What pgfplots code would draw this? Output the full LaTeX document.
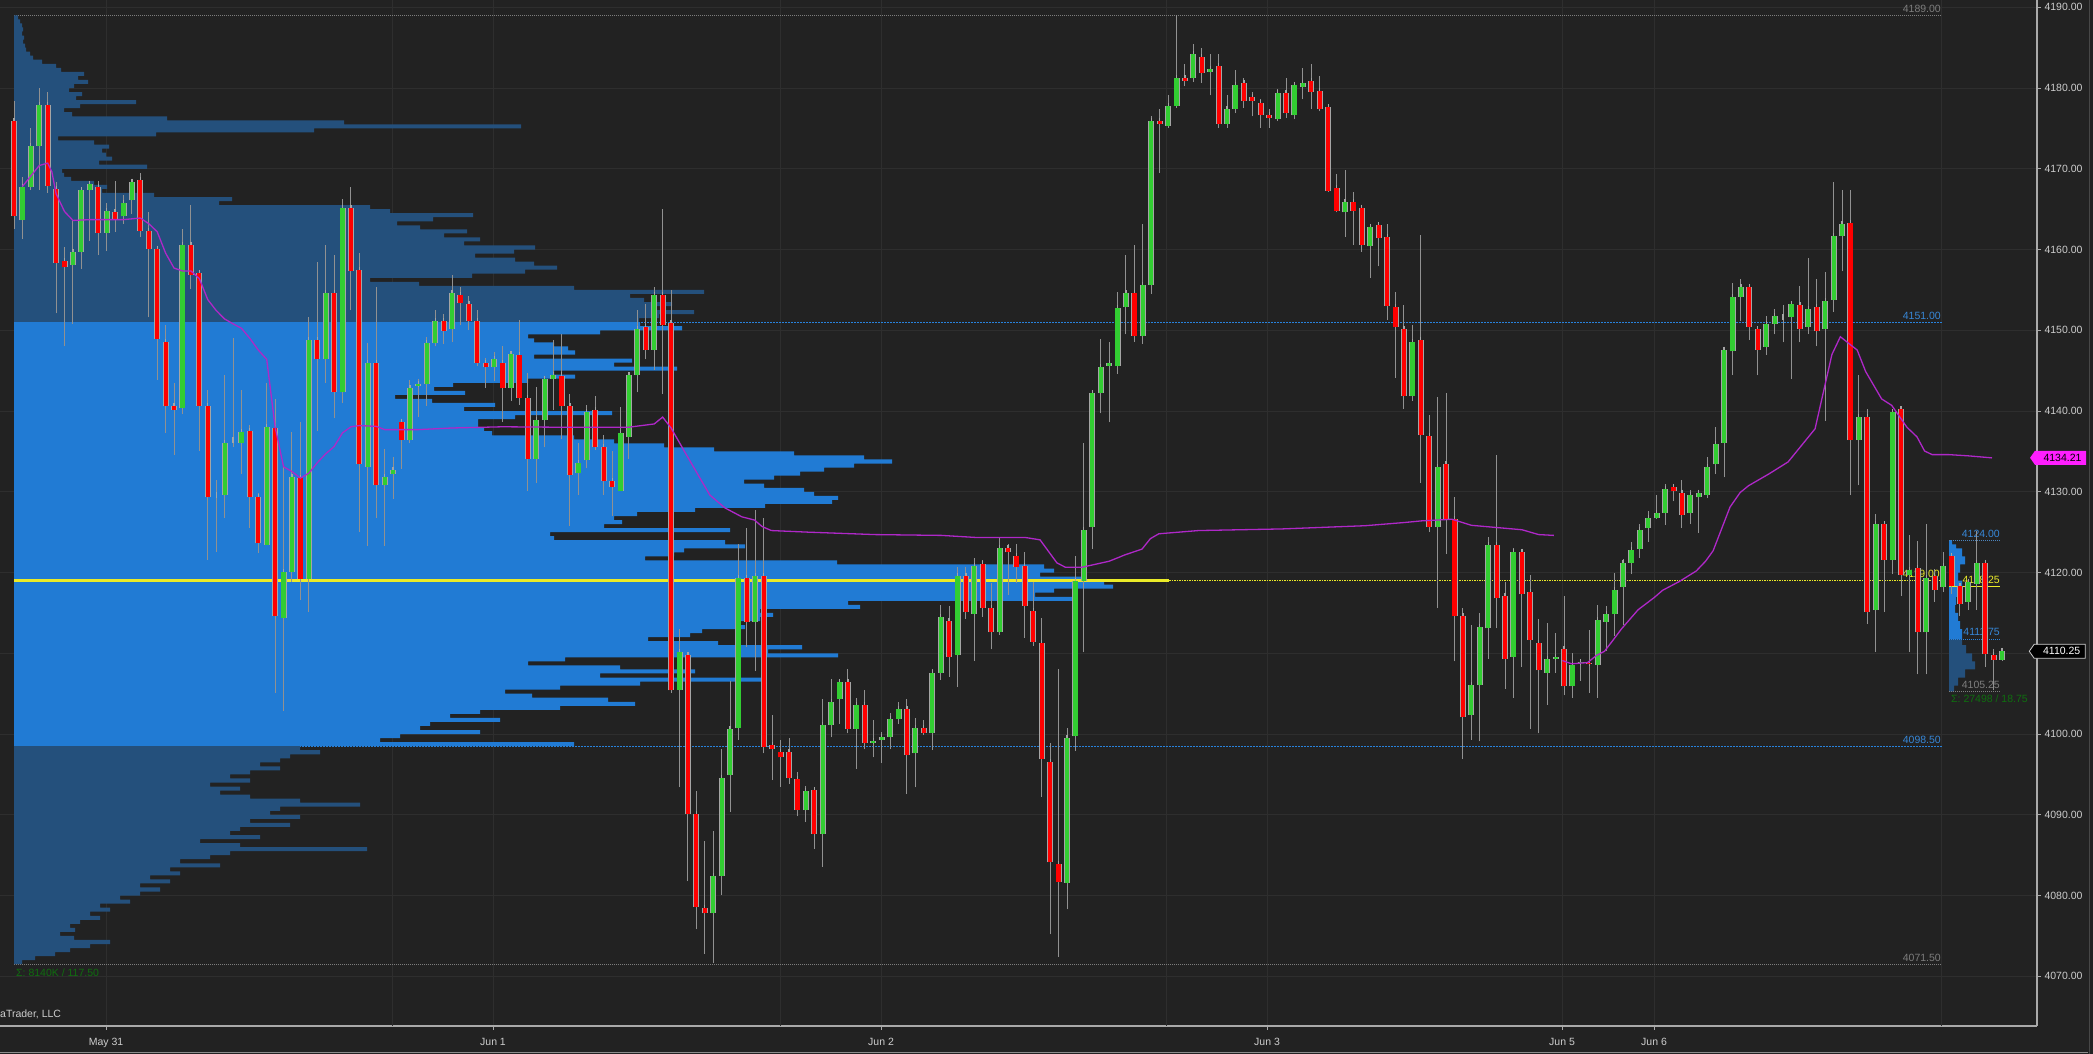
\documentclass[border=0pt]{standalone}
\usepackage{fontspec}
\setmainfont{Liberation Sans}
\usepackage{pgfplots}
\pgfplotsset{compat=1.18}
\usepackage{pgfplotstable}
\usetikzlibrary{shapes.symbols}

\definecolor{bg}{RGB}{34,34,34}
\definecolor{gridc}{RGB}{46,46,46}
\definecolor{axisc}{RGB}{170,170,170}
\definecolor{tickc}{RGB}{205,205,205}
\definecolor{candgreen}{RGB}{50,205,50}
\definecolor{candred}{RGB}{255,0,0}
\definecolor{wick}{RGB}{145,145,145}
\definecolor{outl}{RGB}{165,165,165}
\definecolor{vablue}{RGB}{33,123,212}
\definecolor{darkblue}{RGB}{36,80,124}
\definecolor{lineblue}{RGB}{40,130,220}
\definecolor{lblblue}{RGB}{55,135,215}
\definecolor{lblgray}{RGB}{125,125,125}
\definecolor{poc}{RGB}{235,235,40}
\definecolor{vwap}{RGB}{175,40,200}
\definecolor{sigma}{RGB}{15,110,15}
\definecolor{mag}{RGB}{255,30,255}

\newcommand\lbl{\fontsize{10.5}{12}\selectfont}

% 30-minute candles: index, open, high, low, close
\pgfplotstableread{
i o h l c
0 4175.9 4178.4 4162.6 4164.1
1 4163.6 4169.0 4161.3 4167.8
2 4167.8 4175.1 4167.4 4172.8
3 4172.8 4180.0 4167.4 4177.9
4 4177.9 4179.5 4167.0 4167.9
5 4167.5 4168.3 4152.1 4158.3
6 4158.6 4160.3 4148.0 4157.8
7 4158.1 4163.6 4150.8 4159.7
8 4159.7 4167.4 4157.6 4167.4
9 4167.4 4168.3 4161.1 4168.1
10 4167.8 4168.5 4159.3 4162.1
11 4162.1 4165.8 4159.8 4164.8
12 4164.6 4168.5 4162.2 4163.8
13 4164.1 4166.8 4163.2 4165.8
14 4166.1 4168.7 4164.4 4168.4
15 4168.6 4169.5 4161.6 4162.3
16 4162.3 4164.7 4151.6 4160.1
17 4160.1 4160.1 4143.9 4148.9
18 4148.5 4150.6 4137.3 4140.6
19 4140.6 4143.5 4134.6 4140.1
20 4140.4 4162.6 4139.6 4160.6
21 4160.6 4165.5 4155.1 4156.9
22 4157.1 4157.1 4135.1 4140.6
23 4140.6 4142.6 4121.6 4129.3
24 4129.6 4131.5 4122.6 4129.6
25 4129.6 4144.5 4126.8 4136.1
26 4136.4 4149.0 4135.6 4136.4
27 4136.1 4142.6 4132.2 4137.4
28 4137.5 4138.3 4125.5 4129.3
29 4129.3 4129.8 4122.4 4123.6
30 4123.4 4143.5 4123.4 4138.0
31 4137.9 4141.5 4105.1 4114.6
32 4114.4 4133.2 4102.9 4120.1
33 4120.1 4137.4 4118.8 4131.8
34 4131.7 4138.6 4116.6 4119.2
35 4119.2 4151.7 4115.1 4148.8
36 4148.8 4158.5 4137.5 4146.4
37 4146.4 4160.5 4143.5 4154.6
38 4154.6 4159.3 4139.1 4142.3
39 4142.3 4166.3 4141.0 4165.1
40 4165.1 4167.8 4152.5 4157.4
41 4157.5 4159.6 4125.0 4133.4
42 4133.1 4148.4 4123.3 4146.0
43 4146.0 4155.4 4126.8 4130.8
44 4130.8 4135.3 4123.3 4131.8
45 4132.2 4134.3 4129.1 4132.7
46 4138.7 4138.7 4132.8 4136.4
47 4136.4 4143.8 4136.0 4142.8
48 4143.1 4144.0 4139.3 4143.3
49 4143.3 4149.2 4140.6 4148.4
50 4148.4 4152.5 4148.0 4151.1
51 4151.1 4152.0 4148.3 4149.9
52 4150.2 4156.8 4148.5 4154.6
53 4154.4 4155.3 4150.6 4153.4
54 4153.3 4154.3 4150.0 4151.2
55 4151.1 4152.5 4145.6 4146.0
56 4146.0 4146.6 4142.9 4145.4
57 4145.4 4147.3 4143.7 4146.4
58 4146.0 4148.0 4138.7 4142.8
59 4142.8 4147.3 4141.3 4147.1
60 4146.9 4151.3 4140.8 4141.6
61 4141.6 4144.7 4130.1 4134.1
62 4134.1 4143.0 4131.1 4138.9
63 4138.9 4144.3 4135.5 4144.0
64 4144.0 4148.8 4140.1 4144.4
65 4144.4 4149.5 4136.5 4140.6
66 4140.6 4142.1 4125.8 4132.1
67 4132.3 4136.1 4129.6 4133.6
68 4133.9 4140.8 4133.0 4139.9
69 4140.1 4141.8 4135.2 4135.5
70 4135.6 4137.0 4129.6 4131.3
71 4131.3 4135.0 4127.0 4130.6
72 4130.1 4140.5 4130.1 4137.3
73 4136.8 4144.4 4134.1 4144.4
74 4144.4 4152.5 4142.3 4150.2
75 4150.4 4153.2 4146.4 4147.6
76 4147.6 4155.4 4145.1 4154.4
77 4154.4 4165.0 4142.1 4150.6
78 4150.9 4155.0 4105.1 4105.4
79 4105.5 4113.0 4093.4 4110.1
80 4109.8 4110.2 4081.8 4090.1
81 4090.1 4093.0 4075.8 4078.6
82 4078.5 4086.8 4072.8 4077.8
83 4077.8 4088.0 4071.6 4082.4
84 4082.4 4098.2 4080.1 4094.5
85 4094.9 4106.6 4090.4 4100.6
86 4100.8 4123.5 4099.3 4119.3
87 4119.3 4125.5 4110.8 4113.9
88 4113.9 4127.7 4107.8 4119.6
89 4119.6 4126.8 4097.6 4098.4
90 4098.6 4102.4 4094.3 4098.1
91 4097.8 4099.3 4093.5 4097.1
92 4097.8 4099.5 4093.8 4094.5
93 4094.4 4095.3 4089.8 4090.6
94 4090.6 4093.6 4089.1 4092.9
95 4093.1 4093.1 4085.8 4087.6
96 4087.6 4104.3 4083.6 4101.1
97 4101.1 4106.8 4099.6 4104.0
98 4104.4 4106.6 4101.3 4106.4
99 4106.4 4108.1 4100.1 4100.6
100 4100.6 4104.5 4095.7 4103.6
101 4103.6 4105.5 4098.1 4098.9
102 4098.9 4101.8 4097.1 4099.2
103 4099.3 4100.2 4096.4 4099.6
104 4099.6 4102.6 4098.1 4101.9
105 4101.9 4104.0 4101.3 4103.1
106 4103.1 4104.4 4092.6 4097.4
107 4097.6 4102.0 4093.4 4100.8
108 4100.8 4101.7 4099.9 4100.1
109 4100.1 4108.1 4098.0 4107.6
110 4107.6 4116.0 4106.7 4114.5
111 4114.0 4115.8 4107.1 4109.6
112 4109.8 4120.7 4105.8 4119.6
113 4119.6 4120.7 4114.3 4115.1
114 4114.9 4121.8 4109.1 4120.8
115 4121.1 4121.6 4114.5 4115.6
116 4115.6 4118.7 4110.5 4112.6
117 4112.6 4124.4 4112.3 4123.1
118 4123.1 4123.5 4117.2 4122.5
119 4122.1 4123.5 4118.7 4120.7
120 4120.8 4122.6 4111.9 4115.9
121 4115.2 4118.8 4110.9 4111.4
122 4111.3 4114.4 4092.2 4096.9
123 4096.5 4098.9 4075.2 4084.1
124 4083.9 4108.1 4072.4 4081.7
125 4081.6 4100.7 4078.3 4099.5
126 4099.7 4122.0 4097.9 4119.0
127 4119.0 4136.0 4110.1 4125.3
128 4125.6 4142.2 4122.9 4142.2
129 4142.2 4148.9 4139.7 4145.4
130 4145.6 4148.6 4138.6 4145.9
131 4145.6 4154.8 4144.6 4152.7
132 4152.9 4159.3 4149.5 4154.6
133 4154.6 4160.6 4148.6 4149.3
134 4149.3 4163.1 4148.3 4155.6
135 4155.6 4176.5 4154.5 4175.9
136 4175.9 4177.4 4169.5 4175.6
137 4175.3 4179.1 4175.1 4177.8
138 4177.8 4189.1 4177.5 4181.2
139 4181.2 4183.0 4180.2 4180.9
140 4181.2 4185.5 4180.8 4184.2
141 4183.9 4185.0 4180.6 4181.9
142 4182.0 4184.2 4179.1 4182.4
143 4182.7 4184.2 4175.1 4175.6
144 4175.6 4179.1 4175.1 4177.4
145 4177.4 4182.2 4176.9 4180.4
146 4180.6 4181.2 4177.5 4178.4
147 4178.9 4179.5 4176.5 4178.4
148 4178.1 4178.7 4175.1 4176.6
149 4176.6 4177.4 4175.1 4176.3
150 4176.1 4179.9 4175.9 4179.4
151 4179.4 4181.2 4176.3 4176.9
152 4176.6 4180.6 4176.1 4180.4
153 4180.1 4182.5 4178.6 4180.6
154 4180.9 4183.0 4177.4 4179.5
155 4179.6 4181.5 4177.1 4177.4
156 4177.6 4177.8 4167.1 4167.3
157 4167.6 4169.3 4164.6 4164.8
158 4164.6 4169.8 4161.6 4165.9
159 4165.9 4167.1 4160.6 4164.8
160 4165.2 4165.5 4159.7 4160.6
161 4160.4 4162.8 4156.5 4162.8
162 4163.0 4163.2 4157.9 4161.4
163 4161.6 4163.2 4151.3 4153.0
164 4152.9 4154.8 4144.1 4150.4
165 4150.1 4153.1 4140.3 4141.8
166 4141.8 4150.7 4141.3 4148.5
167 4148.8 4161.8 4131.1 4137.0
168 4136.9 4139.5 4125.0 4125.6
169 4125.6 4141.7 4115.6 4133.1
170 4133.4 4142.2 4122.3 4126.6
171 4126.6 4129.3 4109.0 4114.6
172 4114.6 4115.6 4096.9 4102.1
173 4102.4 4113.5 4099.3 4106.1
174 4106.1 4115.0 4099.1 4113.2
175 4113.1 4124.4 4109.3 4123.4
176 4123.4 4134.5 4113.1 4116.8
177 4117.1 4118.8 4105.6 4109.3
178 4109.6 4123.1 4104.5 4122.6
179 4122.6 4122.8 4108.3 4117.3
180 4117.6 4119.7 4100.6 4111.7
181 4111.3 4114.3 4100.1 4107.9
182 4107.6 4113.8 4103.6 4109.3
183 4109.3 4112.5 4107.6 4109.6
184 4110.5 4117.1 4104.8 4105.9
185 4105.9 4110.0 4104.5 4108.6
186 4108.8 4109.2 4106.6 4108.9
187 4108.8 4112.9 4105.1 4108.7
188 4108.6 4116.0 4104.5 4114.1
189 4113.9 4115.8 4110.3 4114.9
190 4114.9 4120.0 4112.1 4117.8
191 4118.2 4121.7 4113.5 4121.2
192 4121.2 4123.8 4119.8 4122.8
193 4122.9 4126.0 4121.8 4125.3
194 4125.5 4127.6 4123.8 4126.8
195 4126.8 4129.6 4126.6 4127.4
196 4127.4 4131.0 4125.9 4130.3
197 4130.6 4131.0 4128.8 4130.1
198 4129.9 4131.5 4125.5 4127.1
199 4127.4 4130.2 4126.0 4129.6
200 4129.3 4130.0 4124.9 4129.9
201 4129.6 4134.3 4129.2 4133.1
202 4133.4 4138.0 4132.2 4135.9
203 4136.1 4147.7 4131.8 4147.6
204 4147.4 4155.9 4144.5 4154.1
205 4154.1 4156.4 4151.2 4155.3
206 4155.3 4155.6 4148.8 4150.4
207 4150.1 4150.1 4144.4 4147.6
208 4147.9 4151.8 4147.0 4150.8
209 4150.8 4152.6 4149.5 4151.8
210 4151.6 4153.1 4148.5 4151.6
211 4151.6 4153.3 4144.0 4153.2
212 4153.1 4155.5 4148.5 4150.2
213 4150.4 4159.0 4149.6 4152.6
214 4152.9 4156.3 4148.0 4149.9
215 4150.1 4157.2 4138.8 4153.6
216 4153.8 4168.3 4152.3 4161.7
217 4161.7 4167.4 4157.3 4163.2
218 4163.3 4167.4 4129.6 4136.4
219 4136.4 4144.5 4130.8 4139.3
220 4139.3 4140.2 4113.6 4115.1
221 4115.4 4127.2 4110.2 4126.0
222 4126.0 4126.0 4115.1 4121.6
223 4121.6 4139.9 4119.8 4139.9
224 4140.2 4140.2 4117.1 4119.7
225 4119.7 4124.7 4110.2 4120.3
226 4120.6 4123.9 4107.4 4112.6
227 4112.6 4126.0 4107.4 4119.3
228 4119.6 4120.4 4116.4 4117.9
229 4118.2 4122.5 4117.6 4120.8
230 4122.1 4122.1 4117.3 4118.3
231 4118.3 4118.3 4114.6 4116.1
232 4116.4 4119.1 4115.4 4118.8
233 4118.6 4125.1 4115.4 4121.2
234 4121.2 4121.4 4108.3 4109.9
235 4109.8 4110.5 4105.4 4109.2
236 4109.2 4110.5 4109.1 4110.3
}\candles

% volume profile: price row, bar length (pt from the profile's left edge)
\pgfplotstableread{
p w
4188.75 4
4188.25 6
4187.75 8
4187.25 9
4186.75 8
4186.25 10
4185.75 9
4185.25 11
4184.75 12
4184.25 16
4183.75 19
4183.25 28
4182.75 42
4182.25 47
4181.75 70
4181.25 64
4180.75 74
4180.25 60
4179.75 55
4179.25 68
4178.75 62
4178.25 122
4177.75 66
4177.25 50
4176.75 58
4176.25 153
4175.75 330
4175.25 507
4174.75 300
4174.25 142
4173.75 44
4173.25 80
4172.75 95
4172.25 88
4171.75 92
4171.25 98
4170.75 85
4170.25 133
4169.75 48
4169.25 50
4168.75 57
4168.25 80
4167.75 93
4167.25 88
4166.75 140
4166.25 218
4165.75 205
4165.25 356
4164.75 376
4164.25 459
4163.75 419
4163.25 383
4162.75 406
4162.25 453
4161.75 430
4161.25 466
4160.75 450
4160.25 521
4159.75 500
4159.25 461
4158.75 501
4158.25 520
4157.75 543
4157.25 511
4156.75 458
4156.25 356
4155.75 405
4155.25 560
4154.75 690
4154.25 616
4153.75 630
4153.25 658
4152.75 640
4152.25 680
4151.75 645
4151.25 625
4150.75 626
4150.25 668
4149.75 586
4149.25 514
4148.75 520
4148.25 540
4147.75 554
4147.25 561
4146.75 520
4146.25 618
4145.75 600
4145.25 663
4144.75 540
4144.25 561
4143.75 514
4143.25 439
4142.75 420
4142.25 451
4141.75 381
4141.25 418
4140.75 481
4140.25 450
4139.75 598
4139.25 501
4138.75 464
4138.25 464
4137.75 470
4137.25 478
4136.75 560
4136.25 600
4135.75 650
4135.25 700
4134.75 780
4134.25 850
4133.75 878
4133.25 840
4132.75 810
4132.25 786
4131.75 760
4131.25 730
4130.75 750
4130.25 790
4129.75 800
4129.25 824
4128.75 818
4128.25 751
4127.75 681
4127.25 623
4126.75 600
4126.25 608
4125.75 590
4125.25 716
4124.75 536
4124.25 540
4123.75 711
4123.25 731
4122.75 670
4122.25 660
4121.75 631
4121.25 823
4120.75 1030
4120.25 1040
4119.75 1026
4119.25 1070
4118.75 1090
4118.25 1099
4117.75 1040
4117.25 1021
4116.75 1058
4116.25 834
4115.75 846
4115.25 746
4114.75 759
4114.25 746
4113.75 726
4113.25 731
4112.75 688
4112.25 676
4111.75 634
4111.25 704
4110.75 788
4110.25 754
4109.75 824
4109.25 551
4108.75 514
4108.25 606
4107.75 681
4107.25 586
4106.75 751
4106.25 626
4105.75 546
4105.25 491
4104.75 518
4104.25 594
4103.75 621
4103.25 546
4102.75 466
4102.25 436
4101.75 486
4101.25 416
4100.75 406
4100.25 466
4099.75 386
4099.25 366
4098.75 560
4098.25 286
4097.75 306
4097.25 276
4096.75 266
4096.25 246
4095.75 266
4095.25 236
4094.75 216
4094.25 236
4093.75 196
4093.25 226
4092.75 206
4092.25 236
4091.75 286
4091.25 346
4090.75 266
4090.25 256
4089.75 286
4089.25 236
4088.75 276
4088.25 226
4087.75 216
4087.25 246
4086.75 186
4086.25 226
4085.75 353
4085.25 216
4084.75 196
4084.25 166
4083.75 206
4083.25 156
4082.75 166
4082.25 136
4081.75 156
4081.25 126
4080.75 146
4080.25 126
4079.75 106
4079.25 116
4078.75 86
4078.25 96
4077.75 76
4077.25 86
4076.75 66
4076.25 56
4075.75 61
4075.25 46
4074.75 60
4074.25 96
4073.75 76
4073.25 56
4072.75 41
4072.25 21
4071.75 8
}\profile

\pgfplotstableread{
i v
1 4167.8
2 4169.1
3 4170.4
4 4170.7
4.5 4169.6
5 4166.9
6 4164.7
7 4163.6
9 4163.7
13 4163.7
15 4163.9
16 4163.2
17 4162.2
18 4159.55
19 4157.7
20 4157.35
21 4157.35
22 4156.4
23 4153.8
24 4152.45
25 4151.4
26 4150.8
27 4150.25
28 4149.0
29 4147.55
30 4146.4
31 4138.0
32 4133.1
33 4132.5
34 4131.7
35 4132.3
36 4133.6
37 4134.7
38 4135.6
39 4137.3
40 4138.05
41 4138.2
43 4138.1
44 4137.7
48 4137.7
52 4137.9
58 4138.05
64 4138.0
70 4138.0
73 4138.0
76 4138.4
77 4139.25
78 4137.9
79.7 4134.8
82.6 4129.6
84.4 4128.0
86.4 4126.9
87.9 4126.5
88.8 4125.7
89.9 4125.2
94.3 4125.0
102.2 4124.7
110.1 4124.6
114.1 4124.35
120 4124.35
121.8 4124.05
123.8 4121.2
124.8 4120.66
126.8 4120.66
130 4121.4
131.9 4122.2
133.9 4122.9
134.9 4124.2
135.9 4124.8
140.6 4125.2
150.5 4125.4
160.4 4125.8
165.1 4126.2
167.1 4126.4
170.7 4126.6
173.0 4125.85
179.0 4125.3
181.0 4124.7
182.8 4124.6
}\vwapA

\pgfplotstableread{
i v
183.8 4109.1
184.9 4108.7
186.8 4108.85
187.8 4109.7
188.8 4110.25
189.8 4111.6
190.8 4113.0
192.8 4115.4
194.7 4116.9
195.7 4117.8
197.7 4118.9
199.7 4120.2
200.8 4121.4
201.7 4122.7
203.7 4128.1
204.9 4129.9
205.9 4130.75
208.3 4132.2
210.6 4133.7
213.8 4137.8
215.8 4147.0
216.8 4149.2
218.8 4147.55
219.8 4144.9
221.7 4141.5
222.9 4140.7
224.7 4138.0
225.9 4136.8
226.8 4135.05
227.7 4134.6
229.7 4134.6
232.0 4134.45
234.8 4134.2
}\vwapB

\begin{document}
\begin{tikzpicture}[x=1pt,y=1pt]
\fill[bg] (0,0) rectangle (2093,1054);
\useasboundingbox (0,0) rectangle (2093,1054);
\draw[black!45, line width=1.5pt] (0,1.3) -- (2088,1.3);
\draw[white!28!black, line width=1pt] (2089,0) -- (2089,1054);
\begin{axis}[
  at={(0pt,28pt)}, anchor=south west,
  scale only axis, width=2037pt, height=1026pt,
  xmin=-14, xmax=2023, ymin=4063.85, ymax=4190.9,
  clip=false,
  axis x line*=bottom, axis y line*=right,
  x axis line style={draw=axisc, line width=1.5pt, -},
  y axis line style={draw=axisc, line width=1.5pt, -},
  xtick={92,479,867,1253,1548,1640},
  xticklabels={May 31,Jun 1,Jun 2,Jun 3,Jun 5,Jun 6},
  extra x ticks={378,766,1152,1927},
  extra x tick labels={},
  extra x tick style={major tick length=0pt},
  ytick={4070,4080,...,4190},
  grid=major, major grid style={draw=gridc, line width=0.8pt},
  tick align=outside, major tick length=4pt,
  every tick/.style={draw=axisc, line width=1pt},
  tick label style={font=\lbl, text=tickc},
  xticklabel style={anchor=base, yshift=-16pt},
  yticklabel style={anchor=west, xshift=0pt,
    /pgf/number format/fixed, /pgf/number format/fixed zerofill,
    /pgf/number format/precision=2, /pgf/number format/1000 sep={},
    /pgf/number format/assume math mode=true},
  scaled y ticks=false,
]
% level lines
\addplot[lblgray, line width=1pt, dash pattern=on 1pt off 1pt, forget plot] coordinates {(0,4189) (1928,4189)};
\addplot[lineblue, line width=1pt, dash pattern=on 2pt off 1pt, forget plot] coordinates {(0,4151) (1928,4151)};
\addplot[lineblue, line width=1pt, dash pattern=on 2pt off 1pt, forget plot] coordinates {(0,4098.5) (1928,4098.5)};
\addplot[lblgray, line width=1pt, dash pattern=on 1pt off 1pt, forget plot] coordinates {(0,4071.5) (1928,4071.5)};

% volume profile
\addplot[xbar, bar width=0.5, bar shift=0pt, fill=darkblue, draw=none, forget plot,
  restrict y to domain=4151.1:4195] table[x=w, y=p] {\profile};
\addplot[xbar, bar width=0.5, bar shift=0pt, fill=vablue, draw=none, forget plot,
  restrict y to domain=4098.6:4151.0] table[x=w, y=p] {\profile};
\addplot[xbar, bar width=0.5, bar shift=0pt, fill=darkblue, draw=none, forget plot,
  restrict y to domain=4060:4098.4] table[x=w, y=p] {\profile};

% small profile of the last session
\addplot[fill=vablue, draw=none, forget plot] coordinates {
(1935,4124.0) (1938,4124.0) (1938,4123.5) (1942,4123.5) (1942,4123.0) (1948,4123.0)
(1948,4122.0) (1951,4122.0) (1951,4121.0) (1946,4121.0) (1946,4120.0) (1944,4120.0)
(1944,4119.0) (1948,4119.0) (1948,4118.0) (1946,4118.0) (1946,4117.0) (1942,4117.0)
(1942,4116.0) (1941,4116.0) (1941,4115.0) (1944,4115.0) (1944,4114.0) (1946,4114.0)
(1946,4113.0) (1948,4113.0) (1948,4111.75) (1935,4111.75)};
\addplot[fill=darkblue, draw=none, forget plot] coordinates {
(1935,4111.75) (1948,4111.75) (1948,4111) (1952,4111) (1952,4110) (1958,4110)
(1958,4109) (1961,4109) (1961,4108) (1951,4108) (1951,4107) (1944,4107)
(1944,4106) (1940,4106) (1940,4105.25) (1935,4105.25)};
\addplot[lblblue!70!gray, line width=1pt, dash pattern=on 1pt off 1pt, forget plot] coordinates {(1935,4124) (1986,4124)};
\addplot[lineblue, line width=1pt, dash pattern=on 1pt off 1pt, forget plot] coordinates {(1935,4111.75) (1986,4111.75)};
\addplot[lblgray, line width=1pt, dash pattern=on 1pt off 1pt, forget plot] coordinates {(1935,4105.25) (1986,4105.25)};
\addplot[poc, line width=1.5pt, forget plot] coordinates {(1935,4118.25) (1986,4118.25)};

% point of control
\addplot[poc, line width=2.5pt, forget plot] coordinates {(0,4119) (1155,4119)};
\addplot[poc, line width=1pt, dash pattern=on 1.5pt off 1pt, forget plot] coordinates {(1155,4119) (1928,4119)};

% labels of levels
\node[anchor=base east, inner sep=0pt, text=lblgray, font=\lbl] at (axis cs:1927,4189.33) {4189.00};
\node[anchor=base east, inner sep=0pt, text=lblblue, font=\lbl] at (axis cs:1927,4151.33) {4151.00};
\node[anchor=base east, inner sep=0pt, text=lblblue, font=\lbl] at (axis cs:1927,4098.83) {4098.50};
\node[anchor=base east, inner sep=0pt, text=lblgray, font=\lbl] at (axis cs:1927,4071.83) {4071.50};
\node[anchor=base east, inner sep=0pt, text=poc, font=\lbl] at (axis cs:1926,4119.4) {4119.00};
\node[anchor=base east, inner sep=0pt, text=lblblue, font=\lbl] at (axis cs:1986,4124.4) {4124.00};
\node[anchor=base east, inner sep=0pt, text=poc, font=\lbl] at (axis cs:1986,4118.65) {4118.25};
\node[anchor=base east, inner sep=0pt, text=lblblue, font=\lbl] at (axis cs:1986,4112.15) {4111.75};
\node[anchor=base east, inner sep=0pt, text=lblgray, font=\lbl] at (axis cs:1986,4105.65) {4105.25};
\node[anchor=base west, inner sep=0pt, text=sigma, font=\lbl] at (axis cs:2,4070.04) {Σ: 8140K / 117.50};
\node[anchor=base west, inner sep=0pt, text=sigma, font=\lbl] at (axis cs:1937,4103.86) {Σ: 27498 / 18.75};
\node[anchor=base west, inner sep=0pt, text=tickc, font=\lbl] at (axis cs:-14,4064.96) {aTrader, LLC};

% candle wicks
\addplot[forget plot, draw=none, mark=none,
  error bars/.cd, y dir=plus, y explicit, error mark=none,
  error bar style={line width=1pt, draw=wick, solid}]
  table[x expr=8.424*\thisrow{i}, y=l, y error expr=\thisrow{h}-\thisrow{l}] {\candles};
% body outlines
\addplot[forget plot, draw=none, mark=none,
  error bars/.cd, y dir=plus, y explicit, error mark=-,
  error mark options={draw=outl, line width=1.2pt, mark size=3pt},
  error bar style={line width=6pt, draw=outl, solid}]
  table[x expr=8.424*\thisrow{i}, y expr={min(\thisrow{o},\thisrow{c})},
        y error expr={abs(\thisrow{c}-\thisrow{o})}] {\candles};
% rising bodies
\addplot[forget plot, draw=none, mark=none,
  restrict expr to domain={\thisrow{c}-\thisrow{o}}{0.001:1000},
  error bars/.cd, y dir=plus, y explicit, error mark=none,
  error bar style={line width=4.2pt, draw=candgreen, solid}]
  table[x expr=8.424*\thisrow{i}, y=o, y error expr=\thisrow{c}-\thisrow{o}] {\candles};
% falling bodies
\addplot[forget plot, draw=none, mark=none,
  restrict expr to domain={\thisrow{o}-\thisrow{c}}{0.001:1000},
  error bars/.cd, y dir=plus, y explicit, error mark=none,
  error bar style={line width=4.2pt, draw=candred, solid}]
  table[x expr=8.424*\thisrow{i}, y=c, y error expr=\thisrow{o}-\thisrow{c}] {\candles};

% average lines
\addplot[vwap, line width=1.3pt, mark=none, forget plot] table[x expr=8.424*\thisrow{i}, y=v] {\vwapA};
\addplot[vwap, line width=1.3pt, mark=none, forget plot] table[x expr=8.424*\thisrow{i}, y=v] {\vwapB};

% price markers on the axis
\node[signal, signal to=west, signal pointer angle=110, fill=black, draw=tickc, line width=0.8pt,
  minimum width=56pt, minimum height=14pt, inner sep=0pt, text=white, font=\lbl]
  at (axis cs:2045.7,4110.25) {\hspace*{4pt}4110.25};
\node[signal, signal to=west, signal pointer angle=110, fill=mag, draw=none,
  minimum width=56pt, minimum height=14pt, inner sep=0pt, text=black, font=\lbl]
  at (axis cs:2046.5,4134.21) {\hspace*{4pt}4134.21};
\end{axis}
\end{tikzpicture}
\end{document}
